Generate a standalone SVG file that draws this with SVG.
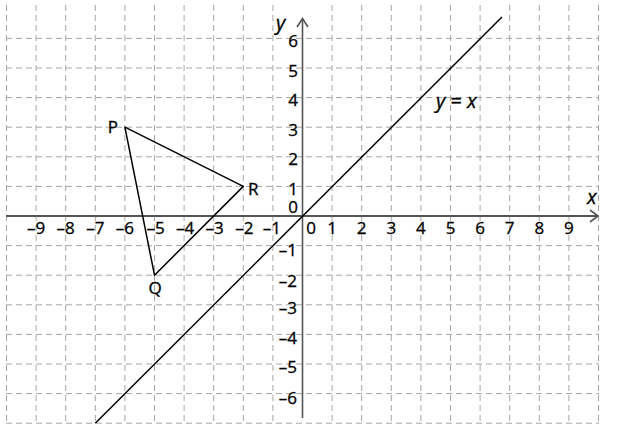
<svg xmlns="http://www.w3.org/2000/svg" width="620" height="432" viewBox="0 0 620 432">
<style>
.grid line{stroke:#a6a6a6;stroke-width:1;stroke-dasharray:6 4}
.ax{stroke:#555;fill:none}
.lbl{font-family:"Open Sans","Noto Sans",sans-serif;font-size:17px;fill:#000;stroke:#000;stroke-width:0.3}
.c{text-anchor:middle}
.e{text-anchor:end}
.it{font-family:"Open Sans","Noto Sans",sans-serif;font-style:italic;font-size:20px;fill:#000;stroke:#000;stroke-width:0.3}
.shape{stroke:#000;stroke-width:1.5;fill:none;stroke-linejoin:round}
</style>
<rect width="620" height="432" fill="#fff"/>
<g id="grid" class="grid">
<line x1="6.5" y1="5" x2="6.5" y2="424"/>
<line x1="36.1" y1="5" x2="36.1" y2="424"/>
<line x1="65.7" y1="5" x2="65.7" y2="424"/>
<line x1="95.3" y1="5" x2="95.3" y2="424"/>
<line x1="124.9" y1="5" x2="124.9" y2="424"/>
<line x1="154.5" y1="5" x2="154.5" y2="424"/>
<line x1="184.1" y1="5" x2="184.1" y2="424"/>
<line x1="213.7" y1="5" x2="213.7" y2="424"/>
<line x1="243.3" y1="5" x2="243.3" y2="424"/>
<line x1="272.9" y1="5" x2="272.9" y2="424"/>
<line x1="332.1" y1="5" x2="332.1" y2="424"/>
<line x1="361.7" y1="5" x2="361.7" y2="424"/>
<line x1="391.3" y1="5" x2="391.3" y2="424"/>
<line x1="420.9" y1="5" x2="420.9" y2="424"/>
<line x1="450.5" y1="5" x2="450.5" y2="424"/>
<line x1="480.1" y1="5" x2="480.1" y2="424"/>
<line x1="509.7" y1="5" x2="509.7" y2="424"/>
<line x1="539.3" y1="5" x2="539.3" y2="424"/>
<line x1="568.9" y1="5" x2="568.9" y2="424"/>
<line x1="598.5" y1="5" x2="598.5" y2="424"/>
<line x1="6" y1="38.4" x2="599" y2="38.4"/>
<line x1="6" y1="68" x2="599" y2="68"/>
<line x1="6" y1="97.6" x2="599" y2="97.6"/>
<line x1="6" y1="127.2" x2="599" y2="127.2"/>
<line x1="6" y1="156.8" x2="599" y2="156.8"/>
<line x1="6" y1="186.4" x2="599" y2="186.4"/>
<line x1="6" y1="245.6" x2="599" y2="245.6"/>
<line x1="6" y1="275.2" x2="599" y2="275.2"/>
<line x1="6" y1="304.8" x2="599" y2="304.8"/>
<line x1="6" y1="334.4" x2="599" y2="334.4"/>
<line x1="6" y1="364" x2="599" y2="364"/>
<line x1="6" y1="393.6" x2="599" y2="393.6"/>
<line x1="6" y1="423.2" x2="599" y2="423.2"/>
</g>
<g id="axes">
<line class="ax" x1="6" y1="216" x2="597" y2="216" stroke-width="2.2"/>
<polyline class="ax" points="590,210 598,216 590,222" stroke-width="1.6"/>
<line class="ax" x1="302.5" y1="19" x2="302.5" y2="418" stroke-width="1.6"/>
<polyline class="ax" points="297,27 302.5,18.5 308,27" stroke-width="1.6"/>
</g>
<g id="line-y-eq-x">
<line class="shape" x1="95.3" y1="423.2" x2="502" y2="17"/>
</g>
<g id="triangle-PQR">
<polygon class="shape" points="124.9,127.2 154.5,275.2 243.3,186.4"/>
</g>
<g id="x-labels" class="lbl c">
<text x="36.1" y="234">–9</text>
<text x="65.7" y="234">–8</text>
<text x="95.3" y="234">–7</text>
<text x="124.9" y="234">–6</text>
<text x="155.5" y="234">–5</text>
<text x="185.1" y="234">–4</text>
<text x="214.7" y="234">–3</text>
<text x="244.3" y="234">–2</text>
<text x="271.9" y="234">–1</text>
<text x="311" y="234">0</text>
<text x="332.1" y="234">1</text>
<text x="361.7" y="234">2</text>
<text x="391.3" y="234">3</text>
<text x="420.9" y="234">4</text>
<text x="450.5" y="234">5</text>
<text x="480.1" y="234">6</text>
<text x="509.7" y="234">7</text>
<text x="539.3" y="234">8</text>
<text x="568.9" y="234">9</text>
</g>
<g id="y-labels" class="lbl e">
<text x="298" y="47">6</text>
<text x="298" y="76.5">5</text>
<text x="298" y="106">4</text>
<text x="298" y="135.7">3</text>
<text x="298" y="165.3">2</text>
<text x="298" y="194.5">1</text>
<text x="298" y="212.5">0</text>
<text x="297" y="256">–1</text>
<text x="297" y="286.5">–2</text>
<text x="297" y="313.5">–3</text>
<text x="297" y="343.5">–4</text>
<text x="297" y="373">–5</text>
<text x="297" y="404">–6</text>
</g>
<g id="point-labels" class="lbl">
<text x="118" y="133" class="e">P</text>
<text x="155" y="294" class="c">Q</text>
<text x="248" y="195">R</text>
</g>
<g id="axis-titles">
<text class="it" x="276" y="30">y</text>
<text class="it" x="587" y="204">x</text>
<text class="it" x="436" y="108">y <tspan font-style="normal">=</tspan> x</text>
</g>
</svg>
